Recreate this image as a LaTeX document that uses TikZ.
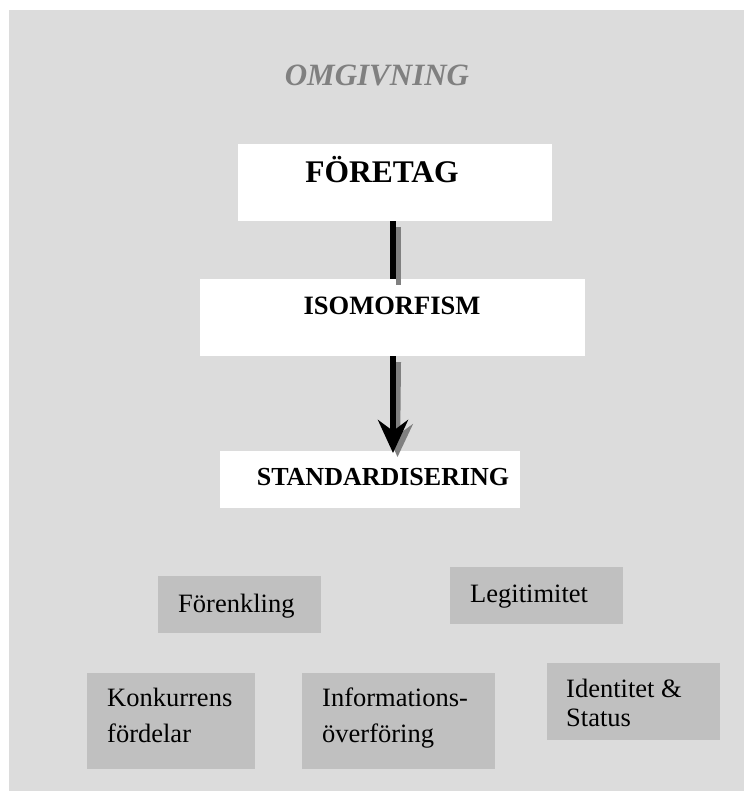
\documentclass[tikz,border=0pt]{standalone}
\usepackage{fontspec}
\setmainfont{Liberation Serif}
\usetikzlibrary{arrows.meta}
\definecolor{bgray}{RGB}{220,220,220}
\definecolor{boxgray}{RGB}{192,192,192}
\definecolor{shadowgray}{RGB}{128,128,128}
\begin{document}
\begin{tikzpicture}[x=1pt,y=-1pt,
  whitebox/.style={fill=white,draw=none,inner sep=0pt},
  graybox/.style={fill=boxgray,draw=none,inner sep=0pt},
  titletext/.style={inner sep=0pt,anchor=base,font=\bfseries\fontsize{26.5}{30}\selectfont},
  smalltext/.style={inner sep=0pt,anchor=base west,align=left,font=\fontsize{26.5}{36}\selectfont},
]
\useasboundingbox (0,0) rectangle (744,791);
\fill[bgray] (9,10) rectangle (744,791);

% white boxes
\node[whitebox,minimum width=314pt,minimum height=77pt] (f) at (395,182.5) {};
\node[whitebox,minimum width=385pt,minimum height=77pt] (i) at (392.5,317.5) {};
\node[whitebox,minimum width=300pt,minimum height=57pt] (s) at (370,479.5) {};

% texts
\node[inner sep=0pt,anchor=base,text=shadowgray,font=\bfseries\itshape\fontsize{31}{36}\selectfont] (omg) at (377,86) {OMGIVNING};
\node[titletext,font=\bfseries\fontsize{31.5}{36}\selectfont] (ft) at (382,183) {FÖRETAG};
\node[titletext] (it) at (392,314) {ISOMORFISM};
\node[titletext,font=\bfseries\fontsize{26}{30}\selectfont] (st) at (383,485) {STANDARDISERING};

% connectors
\coordinate (tip) at (393,453);
\coordinate (tipsh) at (397.5,457);
\draw[shadowgray,line width=5pt] ([xshift=5.5pt,yshift=-6pt]f.south -| tip) -- ([xshift=5.5pt,yshift=-6pt]i.north -| tip);
\draw[black,line width=6pt] (f.south -| tip) -- (i.north -| tip);
\draw[shadowgray,line width=5pt,-{Stealth[length=33pt,width=30pt,inset=11pt]}] ([xshift=5.5pt,yshift=-6pt]i.south -| tip) -- (tipsh);
\draw[black,line width=6pt,-{Stealth[length=33pt,width=30pt,inset=11pt]}] (i.south -| tip) -- (tip);

% gray boxes
\node[graybox,minimum width=163pt,minimum height=57pt] (fo) at (239.5,604.5) {};
\node[graybox,minimum width=173pt,minimum height=57pt] (le) at (536.5,595.5) {};
\node[graybox,minimum width=168pt,minimum height=96pt] (ko) at (171,721) {};
\node[graybox,minimum width=193pt,minimum height=96pt] (in) at (398.5,721) {};
\node[graybox,minimum width=173pt,minimum height=77pt] (id) at (633.5,701.5) {};

\node[smalltext] (fot) at (178,612) {Förenkling};
\node[smalltext] (let) at (470,602) {Legitimitet};
\node[smalltext] (kot) at (107,742) {Konkurrens\\fördelar};
\node[smalltext] (int) at (322,742) {Informations-\\överföring};
\node[smalltext,font=\fontsize{26.5}{29}\selectfont] (idt) at (566,726) {Identitet \&\\Status};
\end{tikzpicture}
\end{document}
